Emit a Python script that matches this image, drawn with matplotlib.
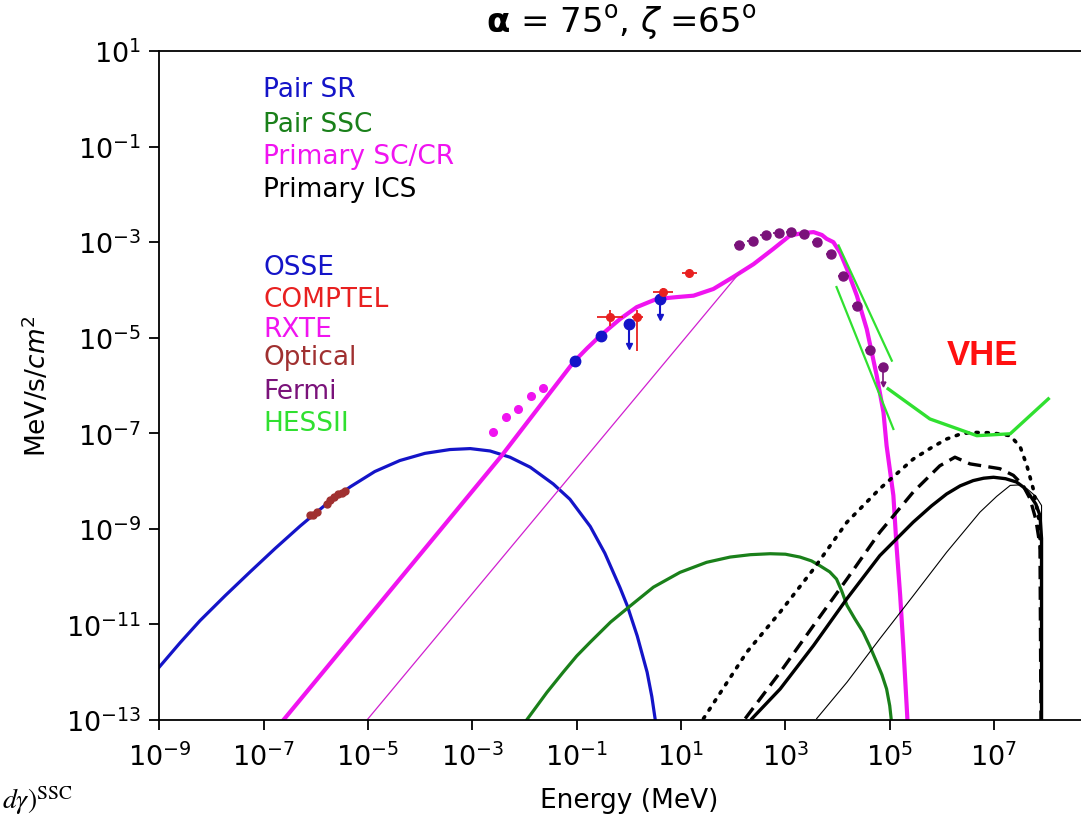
import numpy as np
import matplotlib.pyplot as plt
from matplotlib.ticker import NullLocator

# values, as log10(E / MeV) and log10(flux)
sr_logE = [-9.0, -8.60, -8.22, -7.74, -7.26, -6.78, -6.30, -5.82, -5.34, -4.87, -4.39, -3.91,
           -3.43, -3.04, -2.66, -2.28, -1.89, -1.45, -1.13, -0.74, -0.46, -0.17, -0.03, 0.16,
           0.35, 0.44, 0.52]
sr_logF = [-11.89, -11.38, -10.92, -10.40, -9.90, -9.41, -8.94, -8.50, -8.12, -7.80, -7.57, -7.42,
           -7.34, -7.32, -7.37, -7.50, -7.71, -8.06, -8.38, -8.95, -9.51, -10.23, -10.61, -11.24,
           -12.00, -12.51, -13.10]

ssc_logE = [-1.96, -1.57, -1.26, -1.0, -0.74, -0.35, 0.04, 0.47, 0.98, 1.49, 1.94, 2.33, 2.71,
            3.0, 3.28, 3.50, 3.66, 3.85, 3.98, 4.08, 4.18, 4.33, 4.49, 4.62, 4.75, 4.85, 4.94,
            5.00, 5.05]
ssc_logF = [-13.0, -12.42, -12.0, -11.66, -11.37, -10.95, -10.6, -10.22, -9.91, -9.70, -9.59,
            -9.54, -9.52, -9.53, -9.59, -9.67, -9.77, -9.90, -10.05, -10.3, -10.6, -10.88, -11.16,
            -11.46, -11.79, -12.05, -12.35, -12.7, -13.2]

sc_logE = [-6.75, -2.44, -1.06, -0.80, -0.55, -0.17, 0.15, 0.53, 0.92, 1.24, 1.62, 2.00, 2.39,
           2.77, 3.09, 3.34, 3.54, 3.70, 3.79, 3.92, 4.05, 4.18, 4.37, 4.56, 4.75, 4.88, 4.94,
           5.07, 5.13, 5.20, 5.26, 5.35]
sc_logF = [-13.17, -7.47, -5.51, -5.22, -4.96, -4.61, -4.36, -4.19, -4.15, -4.12, -3.98, -3.73,
           -3.46, -3.14, -2.86, -2.81, -2.79, -2.85, -2.93, -3.00, -3.22, -3.56, -4.12, -4.82,
           -5.79, -6.56, -7.26, -8.30, -9.35, -10.39, -11.44, -13.2]

sc_thin_logE = [-5.02, 2.13]
sc_thin_logF = [-13.0, -3.63]

ics_dot_logE = [1.43, 2.26, 2.90, 3.54, 4.18, 4.81, 5.45, 5.80, 6.09, 6.32, 6.54, 6.95, 7.31,
                7.50, 7.63, 7.75, 7.86, 7.90]
ics_dot_logF = [-12.97, -11.58, -10.74, -9.84, -8.86, -8.16, -7.54, -7.30, -7.12, -7.03, -6.98,
                -6.99, -7.05, -7.28, -7.68, -8.16, -8.80, -9.6]
ics_dash_logE = [2.23, 2.90, 3.54, 4.18, 4.81, 5.45, 5.96, 6.25, 6.54, 7.11, 7.37, 7.55, 7.69,
                 7.80, 7.88, 7.90]
ics_dash_logF = [-12.97, -12.0, -11.02, -10.05, -9.07, -8.23, -7.68, -7.50, -7.64, -7.74, -7.88,
                 -8.08, -8.37, -8.80, -9.35, -13.2]
ics_solid_logE = [2.36, 2.90, 3.54, 4.18, 4.81, 5.45, 5.80, 6.09, 6.35, 6.60, 6.80, 6.99, 7.22,
                  7.43, 7.58, 7.69, 7.80, 7.88, 7.91, 7.91]
ics_solid_logF = [-12.97, -12.35, -11.44, -10.46, -9.56, -8.86, -8.52, -8.27, -8.10, -7.99, -7.94,
                  -7.92, -7.95, -8.02, -8.14, -8.30, -8.48, -8.72, -9.2, -13.2]
ics_thin_logE = [3.60, 4.18, 4.81, 5.45, 6.09, 6.73, 7.05, 7.31, 7.50, 7.63, 7.80, 7.91, 7.91]
ics_thin_logF = [-12.97, -12.21, -11.30, -10.40, -9.49, -8.65, -8.32, -8.09, -8.08, -8.16, -8.32,
                 -8.51, -13.2]

hess_a_logE = [4.02, 5.04]
hess_a_logF = [-3.07, -5.48]
hess_b_logE = [3.98, 5.07]
hess_b_logF = [-3.94, -6.91]
vhe_logE = [4.97, 5.77, 6.67, 7.31, 8.04]
vhe_logF = [-6.07, -6.70, -7.05, -7.01, -6.28]

# data points
opt_logE = [-6.11, -6.05, -5.98, -5.79, -5.72, -5.66, -5.58, -5.50, -5.44]
opt_logF = [-8.72, -8.70, -8.65, -8.48, -8.40, -8.34, -8.28, -8.24, -8.20]

rxte_logE = [-2.60, -2.35, -2.12, -1.88, -1.65]
rxte_logF = [-6.98, -6.66, -6.49, -6.21, -6.06]

osse_logE = [-1.03, -0.54, 0.0, 0.60]
osse_logF = [-5.48, -4.96, -4.71, -4.20]
osse_low = [-5.48, -5.10, -5.17, -4.57]

cpt_logE = [-0.36, 0.15, 0.66, 1.15]
cpt_logF = [-4.57, -4.57, -4.05, -3.64]
cpt_E_lo = [-0.62, 0.06, 0.47, 1.01]
cpt_E_hi = [-0.11, 0.28, 0.85, 1.30]
cpt_F_lo = [-4.75, -5.27, -4.12, -3.68]
cpt_F_hi = [-4.43, -4.43, -3.96, -3.60]

fermi_logE = [2.12, 2.37, 2.62, 2.87, 3.11, 3.36, 3.61, 3.87, 4.11, 4.37, 4.62, 4.87]
fermi_logF = [-3.07, -2.97, -2.86, -2.81, -2.79, -2.84, -2.99, -3.25, -3.71, -4.33, -5.25, -5.62]

c_blue = '#1414c8'
c_green = '#1a801a'
c_mag = '#f014f0'
c_red = '#e82020'
c_brown = '#a03030'
c_purple = '#7a127a'
c_lime = '#30e030'


def p(a):
    return 10.0 ** np.array(a)


fig = plt.figure(figsize=(10.81, 8.2), dpi=100)
ax = fig.add_axes([0.1474, 0.1207, 0.8687, 0.8159])
ax.set_xscale('log')
ax.set_yscale('log')

ax.plot(p(sr_logE), p(sr_logF), color=c_blue, lw=2.3)
ax.plot(p(ssc_logE), p(ssc_logF), color=c_green, lw=2.3)
ax.plot(p(sc_logE), p(sc_logF), color=c_mag, lw=3.0)
ax.plot(p(sc_thin_logE), p(sc_thin_logF), color='#d020d0', lw=0.9)

ax.plot(p(ics_dot_logE), p(ics_dot_logF), color='k', lw=2.6, ls=(0, (0.6, 2.2)), dash_capstyle='round')
ax.plot(p(ics_dash_logE), p(ics_dash_logF), color='k', lw=2.4, ls=(0, (4, 2.2)))
ax.plot(p(ics_solid_logE), p(ics_solid_logF), color='k', lw=2.4)
ax.plot(p(ics_thin_logE), p(ics_thin_logF), color='k', lw=0.8)

ax.plot(p(hess_a_logE), p(hess_a_logF), color=c_lime, lw=1.6)
ax.plot(p(hess_b_logE), p(hess_b_logF), color=c_lime, lw=1.6)
ax.plot(p(vhe_logE), p(vhe_logF), color=c_lime, lw=2.4)

# data
ax.plot(p(opt_logE), p(opt_logF), 'o', color=c_brown, ms=5)
ax.plot(p(rxte_logE), p(rxte_logF), 'o', color=c_mag, ms=5.5)

E = p(osse_logE)
F = p(osse_logF)
ax.errorbar(E, F, yerr=[F - p(osse_low), np.zeros(len(F))], fmt='o', color=c_blue,
            ms=7.5, lw=1.5, capsize=0)
ax.plot(E[2:], p(osse_low)[2:], 'v', color=c_blue, ms=4)

E = p(cpt_logE)
F = p(cpt_logF)
ax.errorbar(E, F, xerr=[E - p(cpt_E_lo), p(cpt_E_hi) - E], yerr=[F - p(cpt_F_lo), p(cpt_F_hi) - F],
            fmt='o', color=c_red, ms=5.5, lw=1.3, capsize=0)

E = p(fermi_logE)
F = p(fermi_logF)
ax.errorbar(E, F, xerr=[E - E / 10 ** 0.1, E * 10 ** 0.1 - E], fmt='o', color=c_purple,
            ms=6.5, lw=1.2, capsize=0)
ax.errorbar(E[-1:], F[-1:], yerr=[F[-1:] - F[-1:] / 10 ** 0.35, [0]], fmt='none',
            ecolor=c_purple, lw=1.2)
ax.plot(E[-1:], F[-1:] / 10 ** 0.35, 'v', color=c_purple, ms=3.5)

ax.set_xlim(1e-9, 1e9)
ax.set_ylim(1e-13, 1e1)
ax.set_xticks(10.0 ** np.arange(-9, 9, 2))
ax.set_yticks(10.0 ** np.arange(-13, 2, 2))
ax.xaxis.set_minor_locator(NullLocator())
ax.yaxis.set_minor_locator(NullLocator())
ax.tick_params(direction='out', length=7, width=1.3, labelsize=19.5)
ax.tick_params(axis='x', pad=9)
ax.tick_params(axis='y', pad=6)
for s in ax.spines.values():
    s.set_linewidth(1.3)
ax.spines['right'].set_visible(False)

ax.set_xlabel('Energy (MeV)', fontsize=19, labelpad=12)
ax.set_ylabel(r'MeV/s/$cm^2$', fontsize=19, labelpad=10)

fig.text(0.575, 0.973, r'$\mathbf{\alpha}$ = 75$^{\mathrm{o}}$, $\zeta$ =65$^{\mathrm{o}}$',
         fontsize=24.5, ha='center', va='center')

labels = [('Pair SR', c_blue, 0.890), ('Pair SSC', c_green, 0.848),
          ('Primary SC/CR', c_mag, 0.809), ('Primary ICS', 'k', 0.768),
          ('OSSE', c_blue, 0.673), ('COMPTEL', c_red, 0.634), ('RXTE', c_mag, 0.598),
          ('Optical', c_brown, 0.563), ('Fermi', c_purple, 0.522), ('HESSII', c_lime, 0.483)]
for t, c, y in labels:
    fig.text(0.2433, y, t, color=c, fontsize=19, va='center', ha='left')

fig.text(0.909, 0.567, 'VHE', color='#ff1010', fontsize=25, fontweight='bold',
         family='Liberation Sans', ha='center', va='center')

fig.text(0.002, 0.004, r'$d\gamma)^{\mathrm{SSC}}$', fontsize=20, math_fontfamily='stix',
         va='bottom', ha='left')

fig.savefig('out.png', dpi=100)
